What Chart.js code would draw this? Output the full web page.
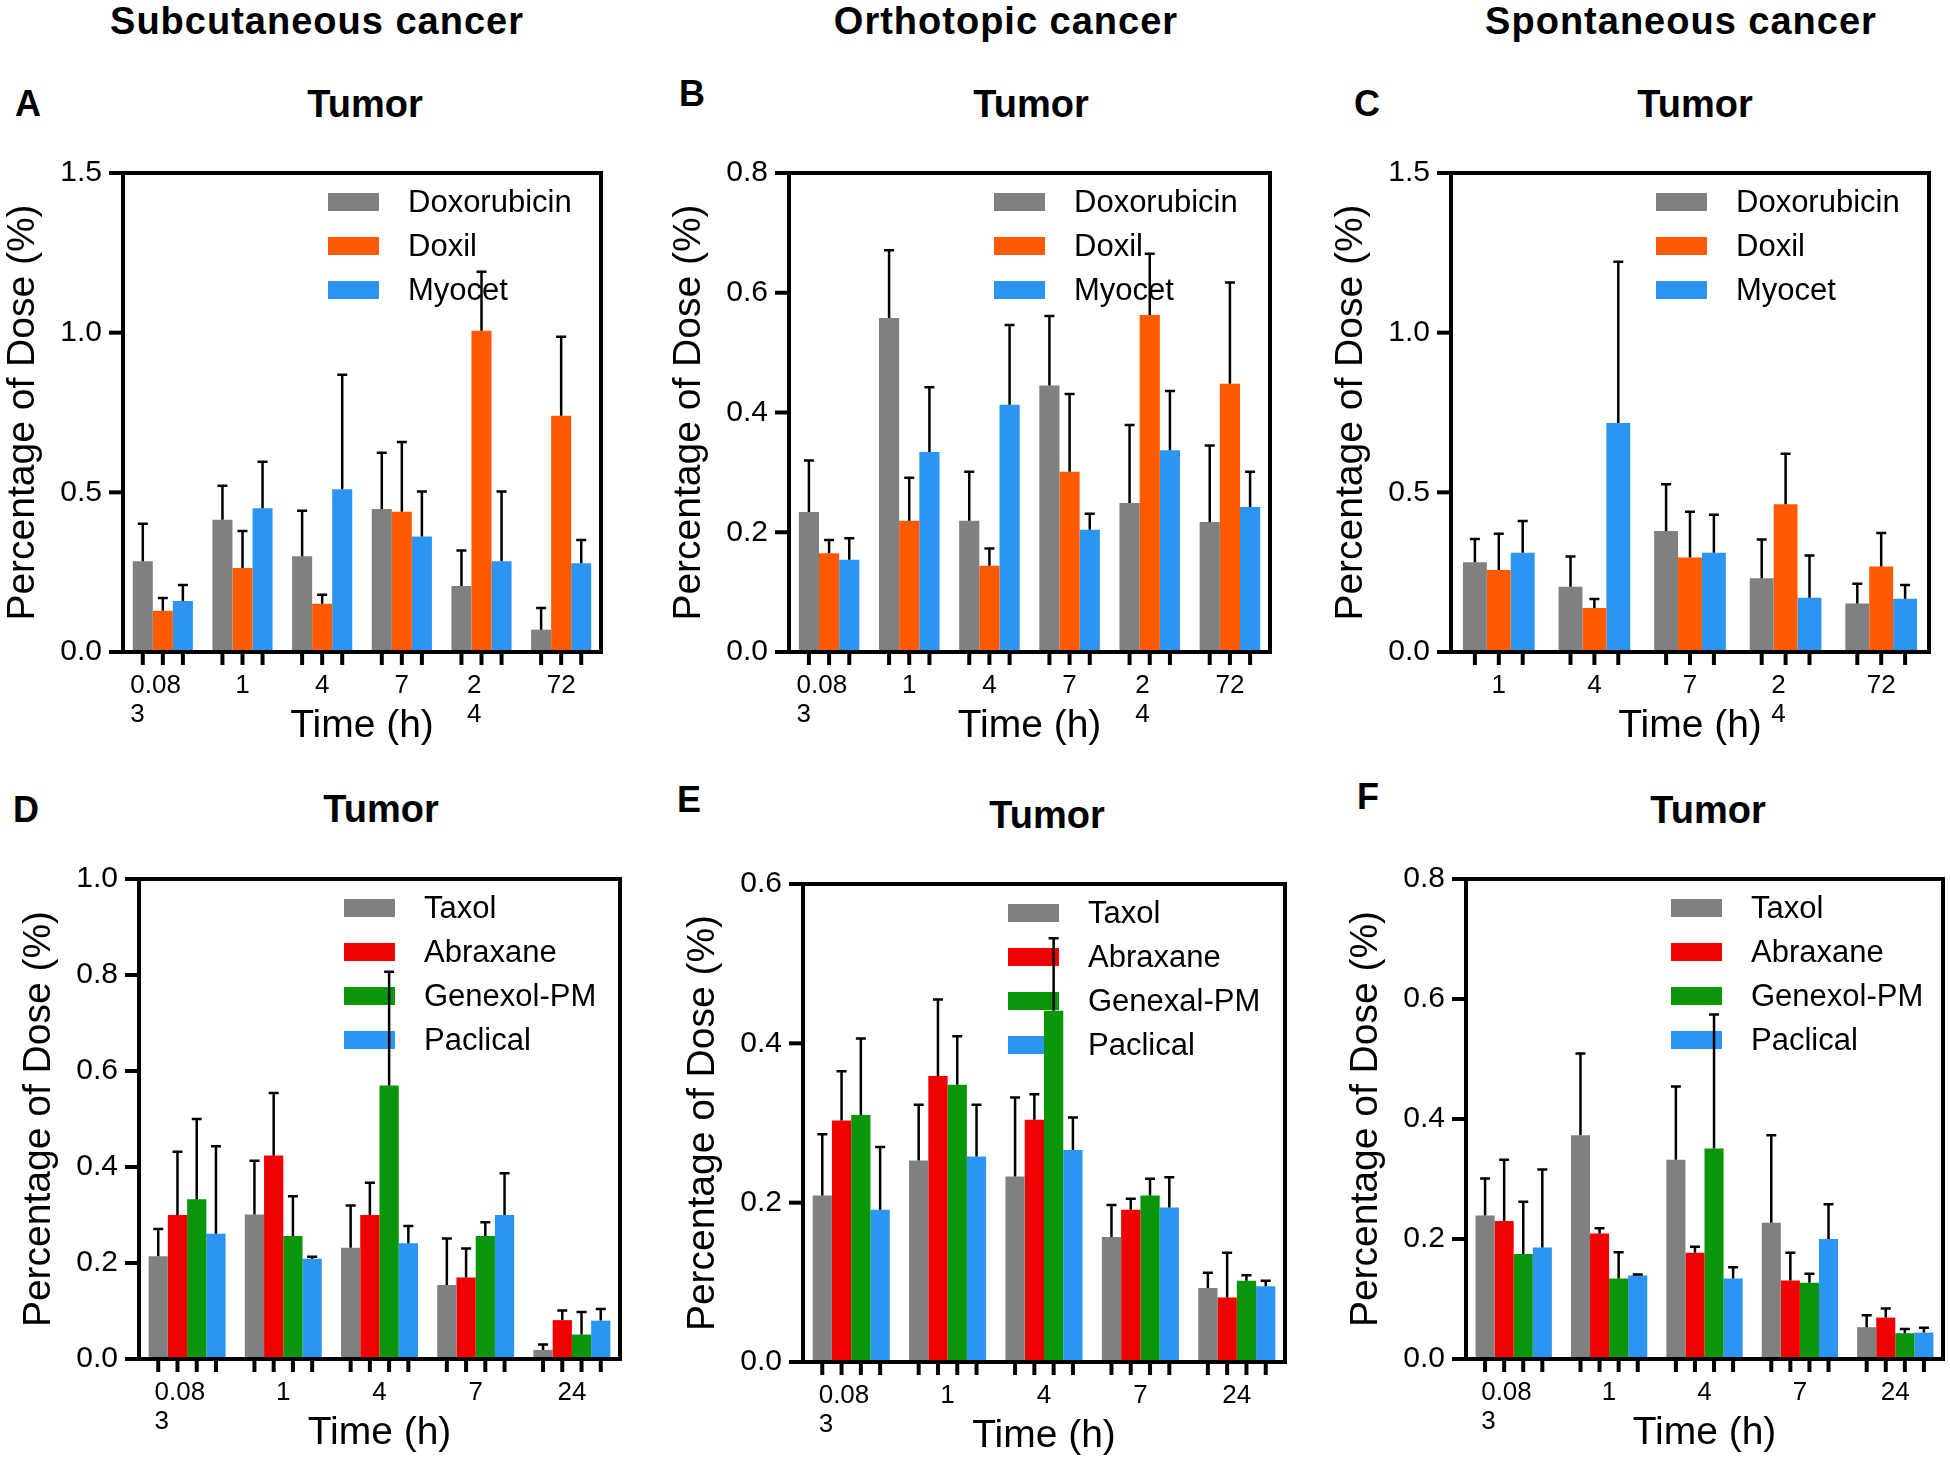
<!DOCTYPE html>
<html><head><meta charset="utf-8">
<script src="https://cdn.jsdelivr.net/npm/chart.js@4.4.1/dist/chart.umd.min.js"></script>
<style>
body{margin:0;background:#fff;width:1950px;height:1464px;position:relative;overflow:hidden;font-family:'Liberation Sans',Arial,sans-serif;}
.t{position:absolute;transform:translate(-50%,-50%);font-weight:bold;white-space:nowrap;line-height:1;color:#000;}
canvas{position:absolute;}
</style></head><body>
<div class="t" style="left:317px;top:21px;font-size:38px;letter-spacing:1px">Subcutaneous cancer</div>
<div class="t" style="left:1006px;top:21px;font-size:38px;letter-spacing:1px">Orthotopic cancer</div>
<div class="t" style="left:1681px;top:21px;font-size:38px;letter-spacing:1px">Spontaneous cancer</div>
<div class="t" style="left:28px;top:104px;font-size:36px">A</div>
<div class="t" style="left:365px;top:104px;font-size:38px">Tumor</div>
<div class="t" style="left:692px;top:94px;font-size:36px">B</div>
<div class="t" style="left:1031px;top:104px;font-size:38px">Tumor</div>
<div class="t" style="left:1367px;top:104px;font-size:36px">C</div>
<div class="t" style="left:1695px;top:104px;font-size:38px">Tumor</div>
<div class="t" style="left:26px;top:810px;font-size:36px">D</div>
<div class="t" style="left:381px;top:809px;font-size:38px">Tumor</div>
<div class="t" style="left:689px;top:800px;font-size:36px">E</div>
<div class="t" style="left:1047px;top:815px;font-size:38px">Tumor</div>
<div class="t" style="left:1368px;top:797px;font-size:36px">F</div>
<div class="t" style="left:1708px;top:810px;font-size:38px">Tumor</div>

<canvas id="cA"></canvas><canvas id="cB"></canvas><canvas id="cC"></canvas>
<canvas id="cD"></canvas><canvas id="cE"></canvas><canvas id="cF"></canvas>
<script>
// ---------- categories / tick labels ----------
const timesAB = ['0.083','1','4','7','24','72'];
const timesC = ['1','4','7','24','72'];
const timesDEF = ['0.083','1','4','7','24'];
const tickLabelsAB = [['0.08','3'],'1','4','7',['2','4'],'72'];
const tickLabelsC = ['1','4','7',['2','4'],'72'];
const tickLabelsDEF = [['0.08','3'],'1','4','7','24'];

// ---------- Panel A (Subcutaneous, doxorubicin formulations) ----------
const doxA = [0.284, 0.414, 0.300, 0.448, 0.207, 0.070];
const doxA_sd = [0.118, 0.107, 0.142, 0.176, 0.111, 0.068];
const doxilA = [0.129, 0.263, 0.151, 0.439, 1.006, 0.740];
const doxilA_sd = [0.040, 0.116, 0.028, 0.219, 0.185, 0.247];
const myoA = [0.160, 0.450, 0.510, 0.362, 0.284, 0.278];
const myoA_sd = [0.050, 0.146, 0.358, 0.141, 0.219, 0.073];

// ---------- Panel B (Orthotopic) ----------
const doxB = [0.234, 0.558, 0.219, 0.445, 0.249, 0.217];
const doxB_sd = [0.086, 0.113, 0.082, 0.116, 0.130, 0.128];
const doxilB = [0.165, 0.219, 0.144, 0.301, 0.563, 0.448];
const doxilB_sd = [0.022, 0.072, 0.029, 0.130, 0.102, 0.169];
const myoB = [0.154, 0.334, 0.413, 0.204, 0.337, 0.242];
const myoB_sd = [0.036, 0.108, 0.133, 0.027, 0.099, 0.059];

// ---------- Panel C (Spontaneous) ----------
const doxC = [0.281, 0.204, 0.379, 0.231, 0.152];
const doxC_sd = [0.073, 0.095, 0.146, 0.121, 0.062];
const doxilC = [0.257, 0.138, 0.296, 0.463, 0.268];
const doxilC_sd = [0.113, 0.028, 0.143, 0.158, 0.105];
const myoC = [0.311, 0.717, 0.311, 0.170, 0.167];
const myoC_sd = [0.099, 0.505, 0.119, 0.132, 0.043];

// ---------- Panel D (Subcutaneous, paclitaxel formulations) ----------
const taxD = [0.214, 0.301, 0.232, 0.154, 0.019];
const taxD_sd = [0.057, 0.112, 0.088, 0.097, 0.011];
const abxD = [0.300, 0.424, 0.300, 0.170, 0.081];
const abxD_sd = [0.132, 0.130, 0.067, 0.060, 0.020];
const genD = [0.333, 0.256, 0.570, 0.256, 0.051];
const genD_sd = [0.167, 0.083, 0.237, 0.029, 0.047];
const pacD = [0.261, 0.209, 0.241, 0.300, 0.080];
const pacD_sd = [0.182, 0.004, 0.036, 0.087, 0.024];

// ---------- Panel E (Orthotopic) ----------
const taxE = [0.209, 0.253, 0.233, 0.157, 0.093];
const taxE_sd = [0.077, 0.070, 0.099, 0.040, 0.019];
const abxE = [0.303, 0.359, 0.304, 0.191, 0.081];
const abxE_sd = [0.062, 0.096, 0.032, 0.014, 0.056];
const genE = [0.310, 0.348, 0.441, 0.209, 0.102];
const genE_sd = [0.096, 0.061, 0.091, 0.021, 0.007];
const pacE = [0.191, 0.258, 0.266, 0.194, 0.095];
const pacE_sd = [0.079, 0.065, 0.041, 0.038, 0.007];

// ---------- Panel F (Spontaneous) ----------
const taxF = [0.239, 0.373, 0.332, 0.227, 0.053];
const taxF_sd = [0.062, 0.136, 0.122, 0.146, 0.020];
const abxF = [0.230, 0.209, 0.177, 0.131, 0.069];
const abxF_sd = [0.102, 0.009, 0.010, 0.046, 0.015];
const genF = [0.175, 0.134, 0.351, 0.127, 0.043];
const genF_sd = [0.087, 0.044, 0.223, 0.015, 0.007];
const pacF = [0.186, 0.139, 0.134, 0.200, 0.044];
const pacF_sd = [0.130, 0.002, 0.019, 0.058, 0.008];

// ---------- styling ----------
const GRAY = '#808080', ORANGE = '#FF5A00', BLUE = '#2C95F2', RED = '#F00000', GREEN = '#0A960A';
const FONT = "'Liberation Sans', Arial, sans-serif";
Chart.defaults.color = '#000';
Chart.defaults.font.family = FONT;

const decor = {
  id: 'decor',
  beforeDatasetsDraw(chart) {
    const ca = chart.chartArea, ctx = chart.ctx;
    ctx.save();
    ctx.font = '31px ' + FONT;
    ctx.textBaseline = 'middle';
    ctx.textAlign = 'left';
    chart.data.datasets.forEach((ds, i) => {
      const y = ca.top + 29 + 44 * i;
      ctx.fillStyle = ds.backgroundColor;
      ctx.fillRect(ca.left + 205, y - 9, 51, 18);
      ctx.fillStyle = '#000';
      ctx.fillText(ds.label, ca.left + 285, y + 1);
    });
    ctx.restore();
  },
  afterDatasetsDraw(chart) {
    const ca = chart.chartArea, ctx = chart.ctx, ys = chart.scales.y;
    ctx.save();
    ctx.strokeStyle = '#000';
    ctx.lineWidth = 2.5;
    chart.data.datasets.forEach((ds, di) => {
      chart.getDatasetMeta(di).data.forEach((bar, i) => {
        const base = ys.getPixelForValue(ds.data[i]);
        const top = ys.getPixelForValue(ds.data[i] + ds.sd[i]);
        ctx.beginPath();
        ctx.moveTo(bar.x, base); ctx.lineTo(bar.x, top);
        ctx.moveTo(bar.x - 5, top); ctx.lineTo(bar.x + 5, top);
        ctx.stroke();
      });
    });
    ctx.lineWidth = 4;
    ctx.strokeRect(ca.left, ca.top, ca.right - ca.left, ca.bottom - ca.top);
    ys.ticks.forEach(t => {
      const y = ys.getPixelForValue(t.value);
      ctx.beginPath(); ctx.moveTo(ca.left - 14, y); ctx.lineTo(ca.left, y); ctx.stroke();
    });
    chart.data.datasets.forEach((ds, di) => {
      chart.getDatasetMeta(di).data.forEach(bar => {
        ctx.beginPath(); ctx.moveTo(bar.x, ca.bottom); ctx.lineTo(bar.x, ca.bottom + 13); ctx.stroke();
      });
    });
    ctx.restore();
  }
};

// wrapped (multi-line) labels are left-aligned in a slightly left-shifted box, as in the original
function padLines(lbl) {
  if (!Array.isArray(lbl)) return lbl;
  const first = lbl[0];
  return lbl.map((l, i) => l + ' '.repeat(2 + Math.max(0, Math.round((first.length - l.length) * 1.65))));
}

function makePanel(id, g, labels, yMax, yStep, series, catPct) {
  const YW = 123, TP = 40, RP = 6, XH = 98;
  const cv = document.getElementById(id);
  const w = (g.R - g.L) + YW + RP, h = (g.B - g.T) + TP + XH;
  cv.width = w; cv.height = h;
  cv.style.left = (g.L - YW) + 'px';
  cv.style.top = (g.T - TP) + 'px';
  cv.style.width = w + 'px'; cv.style.height = h + 'px';
  new Chart(cv, {
    type: 'bar',
    data: {
      labels: labels,
      datasets: series.map(s => ({
        label: s.label, data: s.data, sd: s.sd,
        backgroundColor: s.color, borderWidth: 0,
        categoryPercentage: catPct, barPercentage: 1.0
      }))
    },
    options: {
      responsive: false, animation: false, devicePixelRatio: 1,
      layout: { padding: { top: TP, right: RP, left: 0, bottom: 0 } },
      plugins: { legend: { display: false }, tooltip: { enabled: false } },
      scales: {
        x: {
          offset: true,
          grid: { display: false, drawTicks: false },
          border: { display: false },
          ticks: {
            autoSkip: false, maxRotation: 0, minRotation: 0, padding: 19,
            font: { size: 26, lineHeight: 1.13 },
            callback: function (v, i) { return padLines(labels[i]); }
          },
          title: { display: true, text: 'Time (h)', font: { size: 39 }, padding: 0 },
          afterFit: s => { s.height = XH; }
        },
        y: {
          min: 0, max: yMax,
          grid: { display: false, drawTicks: false },
          border: { display: false },
          ticks: { stepSize: yStep, padding: 21, font: { size: 30 }, callback: v => Number(v).toFixed(1) },
          title: { display: true, text: 'Percentage of Dose (%)', font: { size: 39 }, padding: 0 },
          afterFit: s => { s.width = YW; }
        }
      }
    },
    plugins: [decor]
  });
}

const doxSeries = (d, dsd, l, lsd, m, msd) => [
  { label: 'Doxorubicin', data: d, sd: dsd, color: GRAY },
  { label: 'Doxil', data: l, sd: lsd, color: ORANGE },
  { label: 'Myocet', data: m, sd: msd, color: BLUE }
];
const paxSeries = (genName, t, tsd, a, asd, g, gsd, p, psd) => [
  { label: 'Taxol', data: t, sd: tsd, color: GRAY },
  { label: 'Abraxane', data: a, sd: asd, color: RED },
  { label: genName, data: g, sd: gsd, color: GREEN },
  { label: 'Paclical', data: p, sd: psd, color: BLUE }
];

makePanel('cA', { L: 123, T: 173, R: 601, B: 652 }, tickLabelsAB, 1.5, 0.5, doxSeries(doxA, doxA_sd, doxilA, doxilA_sd, myoA, myoA_sd), 0.755);
makePanel('cB', { L: 789, T: 173, R: 1270, B: 652 }, tickLabelsAB, 0.8, 0.2, doxSeries(doxB, doxB_sd, doxilB, doxilB_sd, myoB, myoB_sd), 0.755);
makePanel('cC', { L: 1451, T: 173, R: 1929, B: 652 }, tickLabelsC, 1.5, 0.5, doxSeries(doxC, doxC_sd, doxilC, doxilC_sd, myoC, myoC_sd), 0.75);
makePanel('cD', { L: 139, T: 879, R: 620, B: 1359 }, tickLabelsDEF, 1.0, 0.2, paxSeries('Genexol-PM', taxD, taxD_sd, abxD, abxD_sd, genD, genD_sd, pacD, pacD_sd), 0.8);
makePanel('cE', { L: 803, T: 884, R: 1285, B: 1362 }, tickLabelsDEF, 0.6, 0.2, paxSeries('Genexal-PM', taxE, taxE_sd, abxE, abxE_sd, genE, genE_sd, pacE, pacE_sd), 0.8);
makePanel('cF', { L: 1466, T: 879, R: 1943, B: 1359 }, tickLabelsDEF, 0.8, 0.2, paxSeries('Genexol-PM', taxF, taxF_sd, abxF, abxF_sd, genF, genF_sd, pacF, pacF_sd), 0.8);
</script>
</body></html>
